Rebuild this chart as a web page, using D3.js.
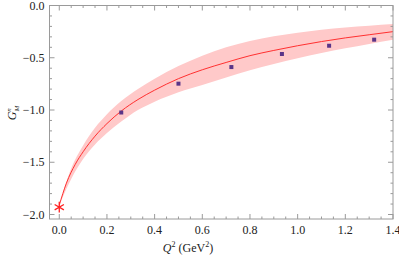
<!DOCTYPE html>
<html><head><meta charset="utf-8">
<script src="https://cdn.jsdelivr.net/npm/d3@7"></script>
<style>body{margin:0;background:#fff}svg{display:block}</style>
</head><body><svg id="c" width="399" height="259"></svg>
<script>
// curve (central fit)
const curveQ2 = [0.00,0.03,0.067,0.10,0.15,0.20,0.26,0.33,0.40,0.50,0.60,0.70,0.80,0.90,1.00,1.10,1.20,1.30,1.40];
const curveG  = [-1.91,-1.70,-1.52,-1.40,-1.25,-1.13,-1.01,-0.90,-0.81,-0.70,-0.615,-0.545,-0.48,-0.43,-0.385,-0.345,-0.31,-0.28,-0.25];
// error band
const bandQ2 = [0.00,0.05,0.10,0.15,0.20,0.26,0.33,0.40,0.50,0.60,0.70,0.80,0.90,1.00,1.10,1.20,1.30,1.40];
const bandHi = [-1.91,-1.56,-1.34,-1.17,-1.04,-0.915,-0.80,-0.70,-0.58,-0.48,-0.40,-0.34,-0.295,-0.26,-0.232,-0.21,-0.193,-0.178];
const bandLo = [-1.91,-1.66,-1.47,-1.33,-1.22,-1.11,-1.00,-0.92,-0.83,-0.76,-0.69,-0.62,-0.56,-0.505,-0.455,-0.41,-0.368,-0.328];
// data points
const ptQ2  = [0.26,0.50,0.722,0.934,1.132,1.321];
const ptG   = [-1.024,-0.748,-0.589,-0.464,-0.385,-0.327];
const ptErr = [0.012,0.010,0.010,0.014,0.010,0.010];
// physical point at Q2=0
const starQ2 = [0.0], starG = [-1.93];
// ticks
const xTicks = [0.0,0.2,0.4,0.6,0.8,1.0,1.2,1.4];
const xTickLabels = ["0.0","0.2","0.4","0.6","0.8","1.0","1.2","1.4"];
const yTicks = [0.0,-0.5,-1.0,-1.5,-2.0];
const yTickLabels = ["0.0","\u22120.5","\u22121.0","\u22121.5","\u22122.0"];

const FONT = "'Liberation Serif','Times New Roman',serif";
const svg = d3.select("#c");
const L=49.5,R=393,T=5.5,B=219;
const x = d3.scaleLinear().domain([-0.041,1.4]).range([L,R]);
const y = d3.scaleLinear().domain([-2.043,0]).range([B,T]);

svg.append("clipPath").attr("id","pc").append("rect").attr("x",L).attr("y",T).attr("width",R-L).attr("height",B-T);
const g = svg.append("g").attr("clip-path","url(#pc)");

const band = bandQ2.map((q,i)=>({q,hi:bandHi[i],lo:bandLo[i]}));
g.append("path").datum(band)
 .attr("d",d3.area().x(d=>x(d.q)).y0(d=>y(d.lo)).y1(d=>y(d.hi)).curve(d3.curveMonotoneX))
 .attr("fill","#ffc9c9");
const cur = curveQ2.map((q,i)=>({q,g:curveG[i]}));
g.append("path").datum(cur)
 .attr("d",d3.line().x(d=>x(d.q)).y(d=>y(d.g)).curve(d3.curveMonotoneX))
 .attr("fill","none").attr("stroke","#ff3030").attr("stroke-width",1);

const pts = ptQ2.map((q,i)=>({q,g:ptG[i],e:ptErr[i]}));
g.selectAll("line.eb").data(pts).join("line").attr("class","eb")
 .attr("x1",d=>x(d.q)).attr("x2",d=>x(d.q)).attr("y1",d=>y(d.g-d.e)).attr("y2",d=>y(d.g+d.e))
 .attr("stroke","#5a3488").attr("stroke-width",1);
g.selectAll("rect.pt").data(pts).join("rect").attr("class","pt")
 .attr("x",d=>x(d.q)-2).attr("y",d=>y(d.g)-2).attr("width",4).attr("height",4)
 .attr("fill","#5a3488");

svg.selectAll("path.star").data(starQ2.map((q,i)=>({q,g:starG[i]}))).join("path").attr("class","star")
 .attr("transform",d=>`translate(${x(d.q)},${y(d.g)})`)
 .attr("d",d3.symbol().type(d3.symbolAsterisk).size(80))
 .attr("fill","none").attr("stroke","#ff2020").attr("stroke-width",1.3);

// frame
const axisCol="#9a9a9a";
svg.append("rect").attr("x",L).attr("y",T).attr("width",R-L).attr("height",B-T)
 .attr("fill","none").attr("stroke",axisCol).attr("stroke-width",1);

const xMinor = d3.range(0,1.41,0.05).filter(v=>!xTicks.some(t=>Math.abs(t-v)<1e-6));
const yMinor = d3.range(-2.0,0.001,0.1).filter(v=>!yTicks.some(t=>Math.abs(t-v)<1e-6));
function ticks(vals, len, isX){
  vals.forEach(v=>{
    if(isX){
      const px=x(v);
      svg.append("line").attr("x1",px).attr("x2",px).attr("y1",B).attr("y2",B-len).attr("stroke",axisCol);
      svg.append("line").attr("x1",px).attr("x2",px).attr("y1",T).attr("y2",T+len).attr("stroke",axisCol);
    } else {
      const py=y(v);
      svg.append("line").attr("x1",L).attr("x2",L+len).attr("y1",py).attr("y2",py).attr("stroke",axisCol);
      svg.append("line").attr("x1",R).attr("x2",R-len).attr("y1",py).attr("y2",py).attr("stroke",axisCol);
    }
  });
}
ticks(xTicks,5,true); ticks(xMinor,2.5,true);
ticks(yTicks,5,false); ticks(yMinor,2.5,false);

svg.selectAll("text.xt").data(xTicks).join("text").attr("class","xt")
 .attr("x",d=>x(d)).attr("y",B+15).attr("text-anchor","middle").attr("font-size",12).attr("fill","#222")
 .attr("font-family",FONT).text((d,i)=>xTickLabels[i]);
svg.selectAll("text.yt").data(yTicks).join("text").attr("class","yt")
 .attr("x",L-5).attr("y",d=>y(d)+4).attr("text-anchor","end").attr("font-size",12).attr("fill","#222")
 .attr("font-family",FONT).text((d,i)=>yTickLabels[i]);

// axis labels
const xl = svg.append("text").attr("x",188).attr("y",252).attr("text-anchor","middle").attr("font-size",12).attr("fill","#222").attr("font-family",FONT);
xl.append("tspan").attr("font-style","italic").text("Q");
xl.append("tspan").attr("font-size",8).attr("dy",-5).text("2");
xl.append("tspan").attr("dy",5).text(" (GeV");
xl.append("tspan").attr("font-size",8).attr("dy",-5).text("2");
xl.append("tspan").attr("dy",5).text(")");

const yl = svg.append("text").attr("transform","translate(16,113) rotate(-90)").attr("text-anchor","middle").attr("font-size",12).attr("fill","#222").attr("font-family",FONT);
yl.append("tspan").attr("font-style","italic").text("G");
yl.append("tspan").attr("font-style","italic").attr("font-size",7).attr("dy",3).text("M");
yl.append("tspan").attr("font-style","italic").attr("font-size",7).attr("dx",-6).attr("dy",-8).text("n");
</script></body></html>
